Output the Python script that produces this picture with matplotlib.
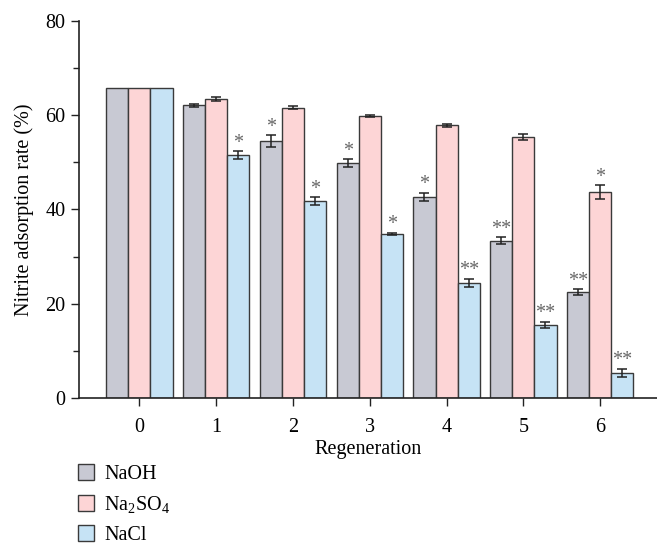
import matplotlib
matplotlib.use("Agg")
import matplotlib.pyplot as plt
import numpy as np
from matplotlib.patches import Patch
from matplotlib.ticker import MultipleLocator

plt.rcParams['font.family'] = ['Liberation Serif', 'DejaVu Serif']
plt.rcParams['mathtext.fontset'] = 'custom'
plt.rcParams['mathtext.rm'] = 'Liberation Serif'
plt.rcParams['mathtext.it'] = 'Liberation Serif:italic'

categories = ['0', '1', '2', '3', '4', '5', '6']
series_names = ['NaOH', 'Na$_2$SO$_4$', 'NaCl']
naoh = [65.8, 62.1, 54.5, 49.8, 42.7, 33.4, 22.5]
na2so4 = [65.8, 63.4, 61.6, 59.8, 57.8, 55.4, 43.7]
nacl = [65.8, 51.5, 41.7, 34.9, 24.5, 15.6, 5.4]
naoh_err = [0, 0.3, 1.2, 0.9, 0.9, 0.7, 0.65]
na2so4_err = [0, 0.45, 0.4, 0.3, 0.25, 0.7, 1.4]
nacl_err = [0, 0.9, 0.85, 0.2, 0.85, 0.65, 0.9]
naoh_sig = ['', '', '*', '*', '*', '**', '**']
na2so4_sig = ['', '', '', '', '', '', '*']
nacl_sig = ['', '*', '*', '*', '**', '**', '**']

colors = ['#C8C9D3', '#FDD5D6', '#C6E3F5']
edge = '#3a3a3a'

fig = plt.figure(figsize=(6.57, 5.45), dpi=100)
ax = fig.add_axes([0.1198, 0.2692, 0.8802, 0.6928])

x = np.arange(len(categories))
w = 0.288
fs = 14.5
vals = [naoh, na2so4, nacl]
errs = [naoh_err, na2so4_err, nacl_err]
sigs = [naoh_sig, na2so4_sig, nacl_sig]
for i in range(3):
    pos = x + (i - 1) * w
    ax.bar(pos, vals[i], width=w, color=colors[i], edgecolor=edge, linewidth=1.0, zorder=2)
    e = np.array(errs[i])
    mask = e > 0
    ax.errorbar(pos[mask], np.array(vals[i])[mask], yerr=e[mask], fmt='none',
                ecolor='#222222', elinewidth=1.1, capsize=3.3, capthick=1.1, zorder=3)
    for j, s in enumerate(sigs[i]):
        if s:
            ax.text(pos[j], vals[i][j] + errs[i][j] + 0.7, s, ha='center', va='baseline',
                    fontsize=fs, color='#666666', zorder=4)

ax.set_xlim(-0.79, 6.74)
ax.set_ylim(0, 80)
ax.set_xticks(x)
ax.set_xticklabels(categories)
ax.yaxis.set_major_locator(MultipleLocator(20))
ax.yaxis.set_minor_locator(MultipleLocator(10))
ax.tick_params(axis='both', which='major', labelsize=fs, direction='out', length=6, width=1.0, color='#222222')
ax.tick_params(axis='x', which='major', pad=8)
ax.tick_params(axis='y', which='minor', direction='out', length=4, width=1.0, color='#222222')
ax.tick_params(axis='x', which='minor', bottom=False)
for s in ['top', 'right']:
    ax.spines[s].set_visible(False)
for s in ['left', 'bottom']:
    ax.spines[s].set_linewidth(1.2)
    ax.spines[s].set_color('#222222')

ax.set_xlabel('Regeneration', fontsize=fs, labelpad=2)
ax.set_ylabel('Nitrite adsorption rate (%)', fontsize=fs, labelpad=8)

handles = [Patch(facecolor=colors[i], edgecolor=edge, linewidth=1.0) for i in range(3)]
fig.legend(handles, series_names, loc='upper left', bbox_to_anchor=(0.119, 0.148),
           frameon=False, fontsize=fs, handlelength=0.8, handleheight=0.8,
           handletextpad=0.5, labelspacing=0.5, borderaxespad=0, borderpad=0)

fig.savefig('out.png', dpi=100)
